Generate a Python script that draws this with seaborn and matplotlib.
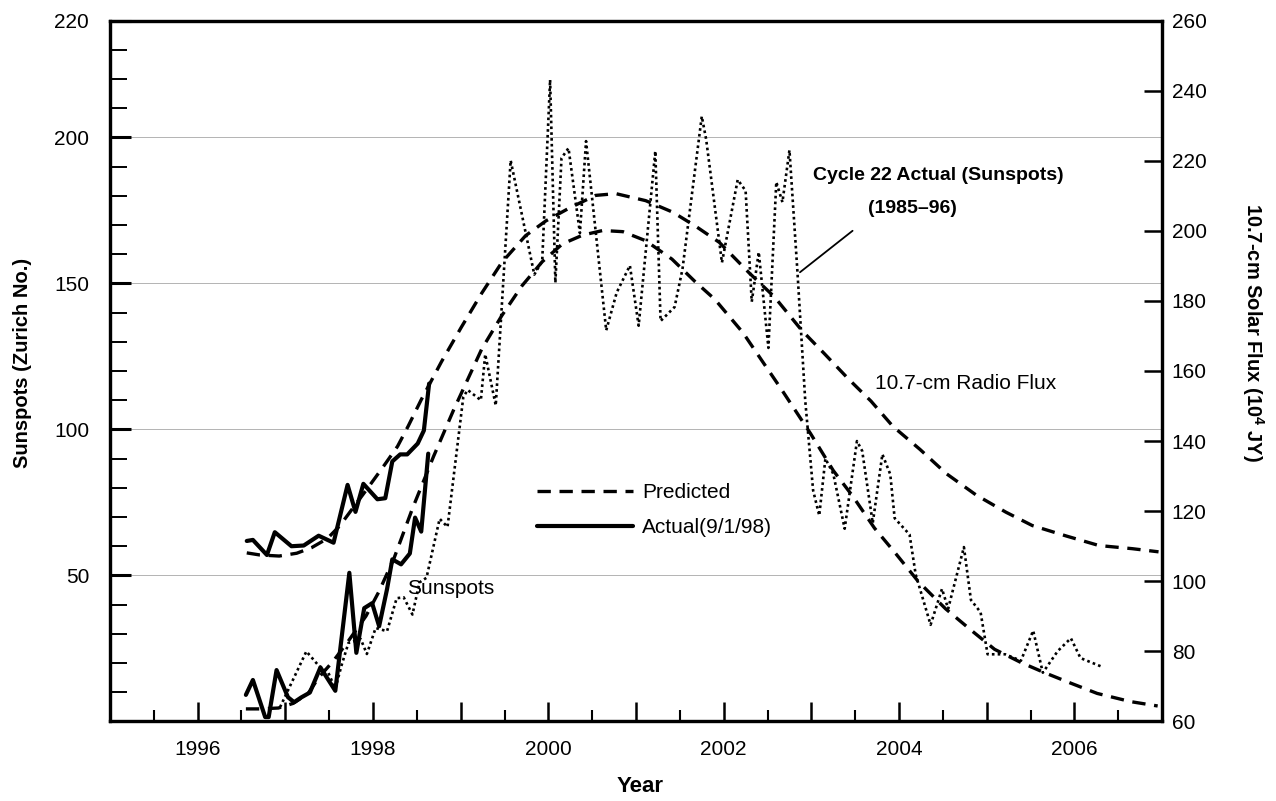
import numpy as np
import pandas as pd
import matplotlib
matplotlib.use("Agg")
import matplotlib.pyplot as plt
import seaborn as sns
from matplotlib import font_manager
from matplotlib.ticker import MultipleLocator, FixedLocator

# Cycle 22 actual sunspots (1985-96), laid over the cycle 23 dates
c22_year = [1996.94, 1997.24, 1997.38, 1997.49, 1997.57, 1997.64, 1997.72, 1997.86, 1997.93, 1998.03,
            1998.16, 1998.27, 1998.35, 1998.45, 1998.53, 1998.61, 1998.76, 1998.85, 1999.03, 1999.08,
            1999.23, 1999.28, 1999.40, 1999.57, 1999.84, 1999.93, 2000.02, 2000.08, 2000.15, 2000.23,
            2000.36, 2000.43, 2000.66, 2000.78, 2000.93, 2001.03, 2001.22, 2001.28, 2001.44, 2001.53,
            2001.75, 2001.80, 2001.98, 2002.16, 2002.25, 2002.32, 2002.40, 2002.51, 2002.60, 2002.67,
            2002.75, 2002.84, 2002.93, 2003.02, 2003.09, 2003.16, 2003.25, 2003.38, 2003.52, 2003.58,
            2003.70, 2003.81, 2003.90, 2003.95, 2004.12, 2004.19, 2004.36, 2004.49, 2004.56, 2004.74,
            2004.82, 2004.93, 2005.01, 2005.21, 2005.39, 2005.53, 2005.64, 2005.81, 2005.96, 2006.07,
            2006.30]
c22_spots = [4.9, 24.0, 19.1, 16.7, 11.2, 19.1, 26.9, 28.2, 23.1, 32.0,
             30.9, 42.2, 42.5, 36.6, 47.6, 49.2, 69.4, 66.6, 111.1, 113.5,
             110.0, 125.7, 108.2, 192.1, 153.0, 157.7, 219.7, 150.2, 192.9, 196.3,
             167.2, 198.7, 133.9, 146.9, 156.1, 135.5, 195.3, 137.1, 141.9, 154.9,
             207.2, 199.3, 157.1, 185.5, 181.7, 143.7, 160.7, 127.9, 184.7, 177.8,
             195.6, 154.5, 109.9, 79.1, 70.5, 90.0, 84.8, 66.0, 96.0, 92.6,
             67.9, 91.5, 84.6, 69.6, 64.0, 50.3, 33.1, 45.4, 38.6, 59.7,
             41.6, 37.4, 23.0, 23.0, 20.8, 31.1, 16.7, 24.1, 28.5, 21.7,
             18.9]

# actual sunspots up to 9/1/98
act_year = [1996.55, 1996.63, 1996.77, 1996.81, 1996.90, 1997.03, 1997.10, 1997.18, 1997.28, 1997.40,
            1997.57, 1997.73, 1997.81, 1997.90, 1997.99, 1998.07, 1998.16, 1998.22, 1998.32, 1998.42,
            1998.48, 1998.55, 1998.63]
act_spots = [9.1, 14.2, 1.5, 1.5, 17.6, 8.3, 6.6, 8.2, 9.9, 18.5,
             10.5, 50.9, 23.5, 38.8, 40.5, 32.6, 45.3, 55.5, 53.8, 57.5,
             69.8, 65.0, 91.7]

# actual 10.7-cm flux up to 9/1/98
actf_year = [1996.56, 1996.63, 1996.79, 1996.88, 1997.07, 1997.21, 1997.38, 1997.55, 1997.71, 1997.80,
             1997.89, 1998.05, 1998.14, 1998.22, 1998.31, 1998.39, 1998.51, 1998.58, 1998.64]
act_flux = [111.5, 111.8, 107.5, 114.0, 110.0, 110.2, 113.0, 111.0, 127.5, 119.8,
            127.8, 123.4, 123.7, 134.2, 136.2, 136.2, 139.3, 143.0, 156.4]

# predicted 10.7-cm flux
predf_year = [1996.56, 1996.71, 1996.93, 1997.13, 1997.30, 1997.48, 1997.62, 1997.94, 1998.12, 1998.28,
              1998.40, 1998.55, 1998.78, 1999.01, 1999.24, 1999.47, 1999.74, 1999.97, 2000.24, 2000.54,
              2000.77, 2001.11, 2001.42, 2001.68, 2001.95, 2002.29, 2002.58, 2002.89, 2003.15, 2003.42,
              2003.68, 2003.93, 2004.24, 2004.54, 2004.88, 2005.22, 2005.52, 2005.91, 2006.28, 2006.66,
              2006.96]
pred_flux = [108.1, 107.5, 107.2, 108.0, 109.6, 112.2, 115.8, 126.6, 132.8, 138.5,
             144.2, 151.8, 162.6, 172.6, 182.2, 191.0, 198.6, 202.8, 206.5, 210.1,
             210.6, 208.6, 205.3, 201.3, 196.7, 188.0, 181.1, 171.6, 164.9, 157.8,
             151.4, 144.2, 137.6, 130.7, 124.6, 119.7, 115.9, 112.9, 110.2, 109.3,
             108.4]

# predicted sunspots
pred_year = [1996.55, 1996.71, 1996.92, 1997.09, 1997.26, 1997.38, 1997.55, 1997.72, 1997.92, 1998.07,
             1998.24, 1998.45, 1998.69, 1998.92, 1999.24, 1999.47, 1999.70, 1999.93, 2000.16, 2000.39,
             2000.62, 2000.85, 2001.11, 2001.41, 2001.67, 2001.90, 2002.22, 2002.43, 2002.65, 2002.99,
             2003.25, 2003.47, 2003.72, 2003.97, 2004.22, 2004.53, 2004.82, 2005.09, 2005.39, 2005.66,
             2005.96, 2006.26, 2006.64, 2006.95]
pred_spots = [4.3, 4.3, 4.6, 6.2, 9.6, 15.0, 20.8, 27.6, 36.1, 44.6,
              55.9, 72.9, 90.7, 106.7, 127.5, 139.0, 149.2, 157.4, 163.5, 166.5,
              168.1, 167.7, 164.6, 158.3, 150.7, 144.5, 133.1, 123.8, 114.1, 98.6,
              85.9, 77.2, 66.2, 57.2, 47.9, 38.6, 31.3, 24.7, 20.2, 16.7,
              13.1, 9.6, 6.8, 5.3]

left_ticks = [50, 100, 150, 200, 240]
left_labels = ["50", "100", "150", "200", "220"]
right_ticks = [60, 80, 100, 120, 140, 160, 180, 200, 220, 240, 260]
year_ticks = list(range(1995, 2008))

sns.set_theme(style="ticks")
names = {f.name for f in font_manager.fontManager.ttflist}
if "Liberation Sans Narrow" in names:
    base = "Liberation Sans Narrow"
    fs, fsb = 18, 17.5
else:
    base = "Liberation Sans"
    fs, fsb = 15, 14
plt.rcParams["font.family"] = [base, "DejaVu Sans"]
plt.rcParams["mathtext.fontset"] = "custom"
plt.rcParams["mathtext.rm"] = base
plt.rcParams["mathtext.bf"] = base + ":bold"
plt.rcParams["text.color"] = "black"
plt.rcParams["axes.labelcolor"] = "black"
plt.rcParams["xtick.color"] = "black"
plt.rcParams["ytick.color"] = "black"

fig = plt.figure(figsize=(12.76, 8.01), dpi=100)
ax = fig.add_axes([0.0862, 0.0993, 0.8245, 0.8751])
ax2 = ax.twinx()

dash = (0, (4, 2.6))
dot = (0, (1, 1.2))

c22 = pd.DataFrame({"Year": c22_year, "Sunspots": c22_spots})
act = pd.DataFrame({"Year": act_year, "Sunspots": act_spots})
pred = pd.DataFrame({"Year": pred_year, "Sunspots": pred_spots})
actf = pd.DataFrame({"Year": actf_year, "Flux": act_flux})
predf = pd.DataFrame({"Year": predf_year, "Flux": pred_flux})

sns.lineplot(data=c22, x="Year", y="Sunspots", ax=ax, color="black", lw=1.9,
             linestyle=dot, estimator=None, sort=False)
sns.lineplot(data=pred, x="Year", y="Sunspots", ax=ax, color="black", lw=2.4,
             linestyle=dash, estimator=None, sort=False)
h_pred = ax.lines[-1]
sns.lineplot(data=act, x="Year", y="Sunspots", ax=ax, color="black", lw=3.0,
             estimator=None, sort=False)
h_act = ax.lines[-1]

sns.lineplot(data=predf, x="Year", y="Flux", ax=ax2, color="black", lw=2.4,
             linestyle=dash, estimator=None, sort=False)
sns.lineplot(data=actf, x="Year", y="Flux", ax=ax2, color="black", lw=3.0,
             estimator=None, sort=False)

ax.set_xlim(1995, 2007)
ax.set_ylim(0, 240)
ax2.set_ylim(60, 260)

# faint grid lines left over in the scan
for v in [50, 100, 150, 200]:
    ax.axhline(v, color="0.7", lw=0.7, zorder=0)

ax.xaxis.set_major_locator(FixedLocator(year_ticks))
ax.set_xticklabels([str(y) if y % 2 == 0 and 1995 < y < 2007 else "" for y in year_ticks])
ax.xaxis.set_minor_locator(MultipleLocator(0.5))
ax.yaxis.set_major_locator(FixedLocator(left_ticks))
ax.set_yticklabels(left_labels)
ax.yaxis.set_minor_locator(MultipleLocator(10))
ax2.yaxis.set_major_locator(FixedLocator(right_ticks))
ax2.set_yticklabels([str(v) for v in right_ticks])

ax.tick_params(axis="y", which="major", direction="in", length=15, width=2.2,
               labelsize=fs, pad=15, colors="black")
ax.tick_params(axis="y", which="minor", direction="in", length=12, width=1.4, left=True)
ax.tick_params(axis="x", which="major", direction="in", length=14, width=1.8,
               labelsize=fs, pad=13, colors="black")
ax.tick_params(axis="x", which="minor", direction="in", length=8, width=1.5, bottom=True)
ax.tick_params(top=False, right=False, which="both")
ax2.tick_params(axis="y", which="major", direction="in", length=13, width=1.8,
                labelsize=fs, pad=7, colors="black")

for a in (ax, ax2):
    for s in a.spines.values():
        s.set_linewidth(2.3)
        s.set_color("black")

ax.set_xlabel("Year", fontsize=fs + 1, fontweight="bold")
ax.xaxis.label.set_va("center")
ax.xaxis.set_label_coords(0.504, -0.093)
ax.set_ylabel("Sunspots (Zurich No.)", fontsize=fs - 0.5, fontweight="bold")
ax.yaxis.label.set_va("center")
ax.yaxis.set_label_coords(-0.083, 0.512)
ax2.set_ylabel(r"10.7-cm Solar Flux (10$^{\mathbf{4}}$ JY)", fontsize=fs - 0.5,
               fontweight="bold", rotation=270)
ax2.yaxis.label.set_va("center")
ax2.yaxis.set_label_coords(1.0865, 0.555)

ax.text(2003.02, 186.9, "Cycle 22 Actual (Sunspots)", fontsize=fsb, fontweight="bold",
        ha="left", va="center")
ax.text(2003.65, 175.8, "(1985–96)", fontsize=fsb, fontweight="bold", ha="left", va="center")
ax.plot([2002.87, 2003.47], [153.8, 168.0], color="black", lw=1.3)
ax.text(2003.73, 115.8, "10.7-cm Radio Flux", fontsize=fs, ha="left", va="center")
ax.text(1998.39, 45.5, "Sunspots", fontsize=fs, ha="left", va="center")

ax.legend([h_pred, h_act], ["Predicted", "Actual(9/1/98)"], loc="upper left",
          bbox_to_anchor=(0.406, 0.340), frameon=False, fontsize=fs,
          handlelength=4.6, handletextpad=0.45, labelspacing=0.78,
          borderpad=0, borderaxespad=0)

fig.savefig("out.png", dpi=100)
